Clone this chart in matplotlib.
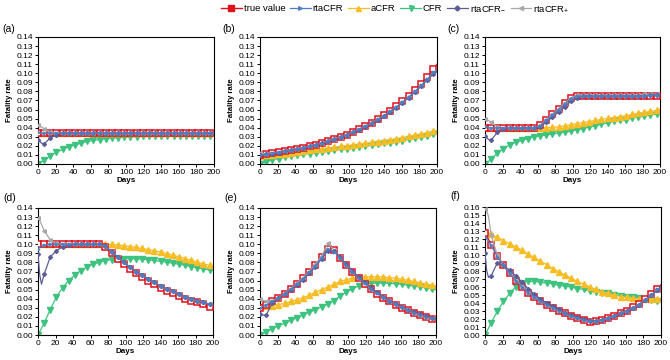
import matplotlib
matplotlib.use('Agg')
import matplotlib.pyplot as plt
from matplotlib.lines import Line2D

plt.rcParams['font.family'] = ['Liberation Sans', 'DejaVu Sans']
plt.rcParams['mathtext.default'] = 'regular'

# day grids: markers every 7 days, line runs to day 200
days = list(range(0, 197, 7)) + [200]
days_r = [0, 2, 4] + list(range(7, 197, 7)) + [200]

# ---- panel (a): constant fatality
true_a = [0.034, 0.034, 0.034, 0.034, 0.034, 0.034, 0.034, 0.034, 0.034, 0.034,
          0.034, 0.034, 0.034, 0.034, 0.034, 0.034, 0.034, 0.034, 0.034, 0.034,
          0.034, 0.034, 0.034, 0.034, 0.034, 0.034, 0.034, 0.034, 0.034, 0.034]
acfr_a = [0.034, 0.034, 0.034, 0.034, 0.034, 0.034, 0.034, 0.034, 0.034, 0.034,
          0.034, 0.034, 0.034, 0.034, 0.034, 0.034, 0.034, 0.034, 0.034, 0.034,
          0.034, 0.034, 0.034, 0.034, 0.034, 0.034, 0.034, 0.034, 0.034, 0.034]
cfr_a = [0.000, 0.004, 0.009, 0.013, 0.016, 0.019, 0.021, 0.023, 0.025, 0.026,
         0.027, 0.028, 0.0285, 0.029, 0.0295, 0.030, 0.030, 0.0305, 0.0305, 0.031,
         0.031, 0.031, 0.031, 0.031, 0.031, 0.031, 0.031, 0.031, 0.031, 0.031]
rta_a = [0.035, 0.034, 0.034, 0.034, 0.034, 0.034, 0.034, 0.034, 0.034, 0.034, 0.034,
         0.034, 0.034, 0.034, 0.034, 0.034, 0.034, 0.034, 0.034, 0.034, 0.034,
         0.034, 0.034, 0.034, 0.034, 0.034, 0.034, 0.034, 0.034, 0.034, 0.034, 0.034]
rtam_a = [0.027, 0.025, 0.023, 0.022, 0.029, 0.032, 0.034, 0.034, 0.034, 0.034, 0.034,
          0.034, 0.034, 0.034, 0.034, 0.034, 0.034, 0.034, 0.034, 0.034, 0.034,
          0.034, 0.034, 0.034, 0.034, 0.034, 0.034, 0.034, 0.034, 0.034, 0.034, 0.034]
rtap_a = [0.043, 0.042, 0.041, 0.039, 0.035, 0.034, 0.034, 0.034, 0.034, 0.034, 0.034,
          0.034, 0.034, 0.034, 0.034, 0.034, 0.034, 0.034, 0.034, 0.034, 0.034,
          0.034, 0.034, 0.034, 0.034, 0.034, 0.034, 0.034, 0.034, 0.034, 0.034, 0.034]

# ---- panel (b): increasing fatality
true_b = [0.0100, 0.0109, 0.0118, 0.0129, 0.0140, 0.0152, 0.0165, 0.0180, 0.0196, 0.0213,
          0.0231, 0.0252, 0.0274, 0.0298, 0.0324, 0.0352, 0.0383, 0.0416, 0.0453, 0.0493,
          0.0536, 0.0583, 0.0634, 0.0689, 0.0749, 0.0815, 0.0886, 0.0964, 0.1048, 0.1100]
acfr_b = [0.0090, 0.0095, 0.0100, 0.0106, 0.0115, 0.0125, 0.0134, 0.0145, 0.0153, 0.0161,
          0.0169, 0.0177, 0.0185, 0.0194, 0.0202, 0.0211, 0.0220, 0.0229, 0.0238, 0.0248,
          0.0258, 0.0269, 0.0280, 0.0292, 0.0305, 0.0318, 0.0332, 0.0346, 0.0361, 0.0370]
cfr_b = [0.0000, 0.0025, 0.0045, 0.0060, 0.0075, 0.0085, 0.0095, 0.0105, 0.0115, 0.0124,
         0.0133, 0.0142, 0.0151, 0.0160, 0.0170, 0.0179, 0.0188, 0.0197, 0.0206, 0.0216,
         0.0226, 0.0237, 0.0248, 0.0259, 0.0271, 0.0284, 0.0298, 0.0312, 0.0327, 0.0336]
rta_b = [0.0100, 0.0102, 0.0105, 0.0109, 0.0118, 0.0129, 0.0140, 0.0152, 0.0165, 0.0180, 0.0196,
         0.0213, 0.0231, 0.0252, 0.0274, 0.0298, 0.0324, 0.0352, 0.0383, 0.0416, 0.0452,
         0.0491, 0.0533, 0.0579, 0.0628, 0.0681, 0.0738, 0.0800, 0.0866, 0.0936, 0.1010, 0.1040]
rtam_b = [0.0095, 0.0097, 0.0100, 0.0105, 0.0115, 0.0126, 0.0138, 0.0150, 0.0163, 0.0178, 0.0194,
          0.0211, 0.0229, 0.0249, 0.0271, 0.0295, 0.0321, 0.0349, 0.0379, 0.0412, 0.0448,
          0.0487, 0.0528, 0.0573, 0.0622, 0.0674, 0.0730, 0.0792, 0.0857, 0.0927, 0.0995, 0.1020]
rtap_b = [0.0120, 0.0118, 0.0116, 0.0115, 0.0121, 0.0130, 0.0141, 0.0153, 0.0166, 0.0181, 0.0197,
          0.0214, 0.0232, 0.0253, 0.0275, 0.0299, 0.0325, 0.0353, 0.0384, 0.0417, 0.0453,
          0.0492, 0.0534, 0.0580, 0.0629, 0.0682, 0.0738, 0.0799, 0.0862, 0.0930, 0.1000, 0.1010]

# ---- panel (c): step up
true_c = [0.040, 0.040, 0.040, 0.040, 0.040, 0.040, 0.040, 0.040, 0.040, 0.0426,
          0.0488, 0.0549, 0.0610, 0.0671, 0.0733, 0.075, 0.075, 0.075, 0.075, 0.075,
          0.075, 0.075, 0.075, 0.075, 0.075, 0.075, 0.075, 0.075, 0.075, 0.075]
acfr_c = [0.040, 0.040, 0.040, 0.040, 0.040, 0.040, 0.040, 0.040, 0.040, 0.0400,
          0.0401, 0.0403, 0.0410, 0.0420, 0.0432, 0.0445, 0.0457, 0.0468, 0.0480, 0.0491,
          0.0502, 0.0512, 0.0522, 0.0532, 0.0546, 0.0558, 0.0569, 0.0580, 0.0592, 0.0600]
cfr_c = [0.000, 0.005, 0.012, 0.017, 0.021, 0.024, 0.026, 0.028, 0.030, 0.031,
         0.032, 0.033, 0.034, 0.035, 0.036, 0.038, 0.039, 0.041, 0.042, 0.044,
         0.045, 0.047, 0.048, 0.049, 0.051, 0.052, 0.053, 0.054, 0.055, 0.056]
rta_c = [0.041, 0.041, 0.040, 0.040, 0.040, 0.040, 0.040, 0.040, 0.040, 0.040, 0.040,
         0.042, 0.048, 0.054, 0.060, 0.066, 0.072, 0.075, 0.075, 0.075, 0.075,
         0.075, 0.075, 0.075, 0.075, 0.075, 0.075, 0.075, 0.075, 0.076, 0.076, 0.076]
rtam_c = [0.031, 0.029, 0.027, 0.026, 0.035, 0.039, 0.040, 0.040, 0.040, 0.040, 0.040,
          0.041, 0.046, 0.052, 0.057, 0.063, 0.069, 0.073, 0.075, 0.075, 0.075,
          0.075, 0.075, 0.075, 0.075, 0.075, 0.075, 0.075, 0.075, 0.076, 0.076, 0.077]
rtap_c = [0.050, 0.049, 0.048, 0.046, 0.041, 0.040, 0.040, 0.040, 0.040, 0.040, 0.040,
          0.043, 0.049, 0.055, 0.061, 0.067, 0.073, 0.076, 0.076, 0.076, 0.076,
          0.076, 0.076, 0.076, 0.076, 0.076, 0.076, 0.076, 0.077, 0.077, 0.077, 0.078]

# ---- panel (d): step down
true_d = [0.100, 0.100, 0.100, 0.100, 0.100, 0.100, 0.100, 0.100, 0.100, 0.100,
          0.100, 0.097, 0.090, 0.084, 0.078, 0.073, 0.068, 0.064, 0.060, 0.056,
          0.052, 0.049, 0.046, 0.043, 0.040, 0.038, 0.036, 0.034, 0.031, 0.030]
acfr_d = [0.100, 0.100, 0.100, 0.100, 0.100, 0.100, 0.100, 0.100, 0.100, 0.100,
          0.100, 0.1000, 0.0998, 0.0993, 0.0985, 0.0975, 0.0965, 0.0954, 0.0942, 0.0929,
          0.0915, 0.0898, 0.0880, 0.0862, 0.0843, 0.0823, 0.0803, 0.0784, 0.0767, 0.0758]
cfr_d = [0.000, 0.013, 0.028, 0.042, 0.052, 0.060, 0.066, 0.071, 0.075, 0.078,
         0.080, 0.082, 0.083, 0.084, 0.0843, 0.0843, 0.0840, 0.0835, 0.0830, 0.0822,
         0.0813, 0.0803, 0.0792, 0.0780, 0.0768, 0.0755, 0.0742, 0.0729, 0.0716, 0.0710]
rta_d = [0.095, 0.097, 0.098, 0.099, 0.100, 0.100, 0.100, 0.100, 0.100, 0.100, 0.100,
         0.100, 0.100, 0.098, 0.092, 0.086, 0.080, 0.075, 0.070, 0.066, 0.062,
         0.058, 0.054, 0.051, 0.048, 0.045, 0.042, 0.040, 0.038, 0.036, 0.034, 0.033]
rtam_d = [0.089, 0.066, 0.056, 0.067, 0.086, 0.093, 0.097, 0.099, 0.100, 0.100, 0.100,
          0.100, 0.100, 0.098, 0.092, 0.086, 0.080, 0.075, 0.070, 0.066, 0.062,
          0.058, 0.054, 0.051, 0.048, 0.045, 0.042, 0.040, 0.038, 0.036, 0.034, 0.033]
rtap_d = [0.129, 0.126, 0.122, 0.115, 0.105, 0.101, 0.100, 0.100, 0.100, 0.100, 0.100,
          0.100, 0.100, 0.098, 0.092, 0.086, 0.080, 0.075, 0.070, 0.066, 0.062,
          0.058, 0.054, 0.051, 0.048, 0.045, 0.042, 0.040, 0.038, 0.036, 0.034, 0.034]

# ---- panel (e): rise then fall
true_e = [0.0300, 0.0333, 0.0370, 0.0411, 0.0456, 0.0507, 0.0563, 0.0625, 0.0694, 0.0772,
          0.0857, 0.0952, 0.0942, 0.0850, 0.0767, 0.0691, 0.0623, 0.0562, 0.0507, 0.0457,
          0.0412, 0.0372, 0.0335, 0.0302, 0.0273, 0.0246, 0.0222, 0.0200, 0.0180, 0.0170]
acfr_e = [0.032, 0.032, 0.0325, 0.0335, 0.035, 0.037, 0.039, 0.041, 0.044, 0.047,
          0.050, 0.053, 0.056, 0.059, 0.061, 0.0625, 0.0635, 0.064, 0.0642, 0.0642,
          0.064, 0.0633, 0.0625, 0.0615, 0.0603, 0.0590, 0.0575, 0.0562, 0.0548, 0.0540]
cfr_e = [0.000, 0.003, 0.007, 0.010, 0.013, 0.016, 0.019, 0.022, 0.025, 0.028,
         0.031, 0.034, 0.038, 0.043, 0.047, 0.051, 0.054, 0.056, 0.057, 0.0572,
         0.0572, 0.0570, 0.0565, 0.0560, 0.0550, 0.0540, 0.0530, 0.0520, 0.0510, 0.0500]
rta_e = [0.030, 0.031, 0.032, 0.033, 0.037, 0.041, 0.0456, 0.0505, 0.056, 0.062, 0.069,
         0.0765, 0.085, 0.095, 0.092, 0.085, 0.077, 0.070, 0.063, 0.057, 0.051,
         0.046, 0.0415, 0.0375, 0.034, 0.0305, 0.0275, 0.0248, 0.0224, 0.0202, 0.0182, 0.0172]
rtam_e = [0.023, 0.022, 0.022, 0.022, 0.035, 0.041, 0.045, 0.050, 0.055, 0.061, 0.068,
          0.075, 0.084, 0.093, 0.093, 0.086, 0.078, 0.071, 0.064, 0.058, 0.052,
          0.047, 0.042, 0.038, 0.0345, 0.031, 0.028, 0.025, 0.0226, 0.0204, 0.0184, 0.0174]
rtap_e = [0.040, 0.039, 0.038, 0.037, 0.038, 0.041, 0.046, 0.051, 0.057, 0.063, 0.070,
          0.078, 0.087, 0.101, 0.094, 0.086, 0.077, 0.070, 0.063, 0.057, 0.051,
          0.046, 0.0415, 0.0375, 0.034, 0.0305, 0.0275, 0.0248, 0.0224, 0.0202, 0.0182, 0.0172]

# ---- panel (f): fall then rise
true_f = [0.128, 0.113, 0.099, 0.087, 0.077, 0.068, 0.060, 0.053, 0.047, 0.042,
          0.038, 0.034, 0.030, 0.027, 0.024, 0.021, 0.019, 0.016, 0.017, 0.019,
          0.021, 0.024, 0.027, 0.030, 0.035, 0.039, 0.045, 0.051, 0.058, 0.063]
acfr_f = [0.130, 0.126, 0.122, 0.118, 0.114, 0.110, 0.106, 0.101, 0.097, 0.092,
          0.088, 0.083, 0.079, 0.075, 0.071, 0.067, 0.064, 0.060, 0.057, 0.054,
          0.052, 0.050, 0.048, 0.047, 0.046, 0.045, 0.045, 0.045, 0.045, 0.045]
cfr_f = [0.000, 0.015, 0.030, 0.042, 0.052, 0.060, 0.065, 0.067, 0.067, 0.066,
         0.065, 0.064, 0.062, 0.061, 0.060, 0.058, 0.057, 0.055, 0.054, 0.053,
         0.052, 0.050, 0.049, 0.048, 0.047, 0.046, 0.045, 0.044, 0.043, 0.043]
rta_f = [0.122, 0.120, 0.117, 0.112, 0.098, 0.087, 0.077, 0.068, 0.060, 0.053, 0.047,
         0.042, 0.038, 0.034, 0.030, 0.027, 0.024, 0.021, 0.019, 0.017, 0.017,
         0.019, 0.021, 0.024, 0.027, 0.030, 0.034, 0.038, 0.044, 0.050, 0.057, 0.061]
rtam_f = [0.102, 0.080, 0.072, 0.074, 0.090, 0.087, 0.081, 0.074, 0.066, 0.058, 0.051,
          0.045, 0.040, 0.036, 0.032, 0.028, 0.025, 0.022, 0.020, 0.018, 0.018,
          0.019, 0.021, 0.024, 0.027, 0.030, 0.034, 0.038, 0.044, 0.050, 0.056, 0.060]
rtap_f = [0.157, 0.155, 0.148, 0.125, 0.100, 0.088, 0.078, 0.069, 0.061, 0.054, 0.048,
          0.043, 0.038, 0.034, 0.031, 0.027, 0.024, 0.021, 0.019, 0.017, 0.017,
          0.019, 0.021, 0.024, 0.027, 0.030, 0.034, 0.038, 0.044, 0.050, 0.056, 0.060]

panels = [
    ('(a)', true_a, acfr_a, cfr_a, rta_a, rtam_a, rtap_a, 0.14),
    ('(b)', true_b, acfr_b, cfr_b, rta_b, rtam_b, rtap_b, 0.14),
    ('(c)', true_c, acfr_c, cfr_c, rta_c, rtam_c, rtap_c, 0.14),
    ('(d)', true_d, acfr_d, cfr_d, rta_d, rtam_d, rtap_d, 0.14),
    ('(e)', true_e, acfr_e, cfr_e, rta_e, rtam_e, rtap_e, 0.14),
    ('(f)', true_f, acfr_f, cfr_f, rta_f, rtam_f, rtap_f, 0.16),
]

RED = '#e0101c'
BLUE = '#4f7fc0'
YEL = '#f6bd26'
GRN = '#3ec27f'
SLATE = '#5c5c98'
GRAY = '#a8a8a8'

W, H = 670, 360
# axes boxes in pixels: left, top, right, bottom
boxes = [(38, 37, 214, 164), (260, 37, 437, 164), (485, 37, 660, 164),
         (38, 208, 213, 335), (260, 208, 436, 335), (485, 207, 661, 335)]
label_pos = [(2, 29), (222, 29), (447, 29), (3, 198), (224, 198), (450, 196)]

fig = plt.figure(figsize=(W / 100, H / 100), dpi=100)

mk = list(range(29))
mk_r = [0] + list(range(3, 31))

for (name, tv, ac, cf, rt, rm, rp, ymax), (l, t, r, b), (lx, ly) in zip(panels, boxes, label_pos):
    ax = fig.add_axes([l / W, 1 - b / H, (r - l) / W, (b - t) / H])
    ax.plot(days, cf, color=GRN, lw=0.9, marker='v', ms=3.8, markevery=mk, zorder=2)
    ax.plot(days, ac, color=YEL, lw=0.9, marker='^', ms=3.8, markevery=mk, zorder=2)
    ax.plot(days, tv, color=RED, lw=1.0, marker='s', ms=5.0, mfc='white', mec=RED,
            mew=1.1, markevery=mk, zorder=3)
    ax.plot(days_r, rp, color=GRAY, lw=0.9, marker='<', ms=2.6, markevery=mk_r, zorder=4)
    ax.plot(days_r, rm, color=SLATE, lw=0.9, marker='D', ms=2.0, markevery=mk_r, zorder=4)
    ax.plot(days_r, rt, color=BLUE, lw=0.9, marker='>', ms=2.0, markevery=mk_r, zorder=4)

    ax.set_xlim(0, 200)
    ax.set_ylim(0, ymax)
    ax.set_xticks(range(0, 201, 20))
    yt = [i / 100 for i in range(0, int(round(ymax * 100)) + 1)]
    ax.set_yticks(yt)
    ax.set_yticklabels(['%.2f' % v for v in yt])
    ax.tick_params(direction='out', length=2.5, width=0.7, pad=1.2, labelsize=6)
    for s in ax.spines.values():
        s.set_linewidth(0.8)
    ax.set_xlabel('Days', fontsize=5.8, fontweight='bold', labelpad=0.5)
    ax.set_ylabel('Fatality rate', fontsize=5.6, fontweight='bold', labelpad=2)
    fig.text(lx / W, 1 - ly / H, name, fontsize=7.5, ha='left', va='center')

handles = [
    Line2D([], [], color=RED, lw=1.0, marker='s', ms=4.5, mfc=RED, mec=RED),
    Line2D([], [], color=BLUE, lw=0.9, marker='>', ms=2.6),
    Line2D([], [], color=YEL, lw=0.9, marker='^', ms=3.6),
    Line2D([], [], color=GRN, lw=0.9, marker='v', ms=3.6),
    Line2D([], [], color=SLATE, lw=0.9, marker='D', ms=2.6),
    Line2D([], [], color=GRAY, lw=0.9, marker='<', ms=3.0),
]
labels = ['true value', 'rtaCFR', 'aCFR', 'CFR', 'rtaCFR$_{-}$', 'rtaCFR$_{+}$']
fig.legend(handles, labels, loc='center', bbox_to_anchor=(0.59, 1 - 9 / H), ncol=6,
           frameon=False, fontsize=6.8, handlelength=2.2, handletextpad=0.2,
           columnspacing=0.5, borderpad=0.1)

fig.savefig('out.png', dpi=100)
